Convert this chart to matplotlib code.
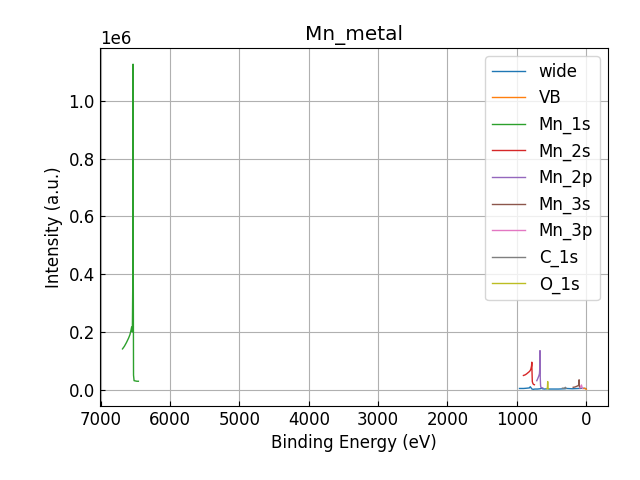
import matplotlib
matplotlib.use("Agg")
import matplotlib.pyplot as plt

plt.rcParams['font.family'] = ['DejaVu Sans']
plt.rcParams['font.size'] = 12

# Binding energy (eV) and intensity (units of 1e6) for each region
be_wide = [960, 900, 850, 815, 805, 795, 780, 760, 740, 700, 660, 645, 630, 600,
           555, 530, 500, 400, 300, 285, 200, 100, 85, 50, 20, 0]
int_wide = [0.004, 0.004, 0.005, 0.006, 0.010, 0.007, 0.002, 0.001, 0.002, 0.002,
            0.003, 0.005, 0.003, 0.002, 0.003, 0.002, 0.002, 0.002, 0.003, 0.004,
            0.003, 0.004, 0.004, 0.005, 0.004, 0.003]

be_vb = [30, 20, 10, 5, 0, -3]
int_vb = [0.004, 0.005, 0.004, 0.003, 0.002, 0.001]

be_mn1s = [6687, 6660, 6630, 6600, 6580, 6565, 6555, 6545, 6538, 6535, 6532, 6528,
           6520, 6500, 6480, 6458]
int_mn1s = [0.141, 0.150, 0.163, 0.178, 0.190, 0.205, 0.217, 0.200, 0.40, 1.127,
            0.45, 0.05, 0.031, 0.030, 0.029, 0.029]

be_mn2s = [903, 880, 860, 840, 820, 805, 795, 786, 782, 779, 775, 768, 758, 745]
int_mn2s = [0.049, 0.051, 0.054, 0.058, 0.062, 0.066, 0.072, 0.082, 0.095, 0.06,
            0.028, 0.022, 0.018, 0.017]

be_mn2p = [710, 700, 690, 680, 672, 668, 664, 660, 656, 652, 645, 635, 625]
int_mn2p = [0.031, 0.036, 0.042, 0.048, 0.055, 0.070, 0.135, 0.040, 0.015, 0.009,
            0.007, 0.006, 0.006]

be_mn3s = [185, 160, 140, 120, 110, 103, 100, 97, 92, 85]
int_mn3s = [0.008, 0.009, 0.011, 0.013, 0.014, 0.020, 0.034, 0.015, 0.008, 0.006]

be_mn3p = [88, 80, 72, 66, 60, 55, 50]
int_mn3p = [0.006, 0.008, 0.012, 0.016, 0.010, 0.006, 0.004]

be_c1s = [340, 320, 305, 298, 292, 288]
int_c1s = [0.005, 0.005, 0.006, 0.008, 0.006, 0.005]

be_o1s = [565, 560, 556, 553, 550, 545, 540]
int_o1s = [0.003, 0.004, 0.010, 0.028, 0.008, 0.004, 0.003]

series = [
    ("wide", be_wide, int_wide),
    ("VB", be_vb, int_vb),
    ("Mn_1s", be_mn1s, int_mn1s),
    ("Mn_2s", be_mn2s, int_mn2s),
    ("Mn_2p", be_mn2p, int_mn2p),
    ("Mn_3s", be_mn3s, int_mn3s),
    ("Mn_3p", be_mn3p, int_mn3p),
    ("C_1s", be_c1s, int_c1s),
    ("O_1s", be_o1s, int_o1s),
]

fig, ax = plt.subplots(figsize=(6.4, 4.8), dpi=100)
fig.subplots_adjust(left=0.156, right=0.95, bottom=0.154, top=0.9)

for label, be, inten in series:
    ax.plot(be, [v * 1e6 for v in inten], label=label, linewidth=1.0)

ax.set_xlim(7014, -317)
ax.set_ylim(-0.057e6, 1.183e6)
ax.set_xlabel("Binding Energy (eV)")
ax.set_ylabel("Intensity (a.u.)")
ax.set_title("Mn_metal")
ax.grid(True)
ax.tick_params(direction='in')
ax.legend(loc='upper right')

fig.savefig("out.png", dpi=100)
